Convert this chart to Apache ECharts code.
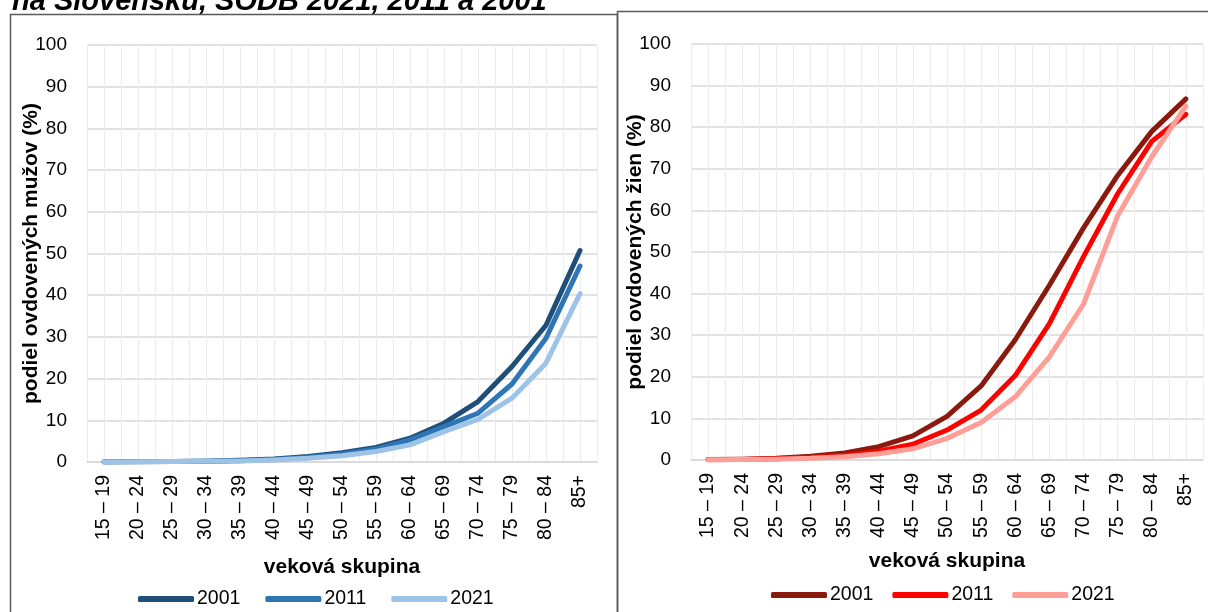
<!DOCTYPE html>
<html>
<head>
<meta charset="utf-8">
<script src="https://cdn.jsdelivr.net/npm/echarts@6/dist/echarts.min.js"></script>
<style>
  html, body { margin: 0; padding: 0; background: #fff; }
  #chart { width: 1208px; height: 612px; }
</style>
</head>
<body>
<div id="chart"></div>
<script>
// vekové skupiny
var categories = ['15 – 19', '20 – 24', '25 – 29', '30 – 34', '35 – 39', '40 – 44', '45 – 49',
    '50 – 54', '55 – 59', '60 – 64', '65 – 69', '70 – 74', '75 – 79', '80 – 84', '85+'];
var years = ['2001', '2011', '2021'];

// muži
var men2001 = [0.0, 0.05, 0.1, 0.2, 0.4, 0.7, 1.3, 2.2, 3.5, 5.7, 9.3, 14.5, 22.9, 32.8, 50.7];
var men2011 = [0.0, 0.05, 0.1, 0.2, 0.3, 0.6, 1.1, 1.9, 3.1, 5.3, 8.5, 11.7, 18.7, 29.7, 47.0];
var men2021 = [0.0, 0.05, 0.1, 0.15, 0.25, 0.5, 0.9, 1.5, 2.5, 4.1, 7.3, 10.2, 15.3, 23.7, 40.4];

// ženy
var women2001 = [0.1, 0.2, 0.4, 0.9, 1.7, 3.2, 5.8, 10.5, 17.8, 28.9, 42.0, 55.8, 68.4, 79.0, 86.8];
var women2011 = [0.05, 0.1, 0.3, 0.6, 1.1, 2.1, 3.8, 7.2, 12.0, 20.3, 32.8, 48.9, 64.0, 76.6, 83.1];
var women2021 = [0.05, 0.1, 0.2, 0.4, 0.8, 1.5, 2.7, 5.2, 9.0, 15.2, 24.8, 37.5, 58.7, 72.9, 85.1];

var yTicks = {min: 0, max: 100, interval: 10};

var menColors = ['#1f4e79', '#2e75b6', '#9dc3e6'];
var womenColors = ['#8b1a0e', '#ff0000', '#ff9e96'];

var FONT = '"Liberation Sans", Arial, sans-serif';

// pomocná os pre jemnú mriežku (čiara každú polovicu kategórie)
var halfCats = [];
for (var i = 0; i < categories.length * 2; i++) {
    halfCats.push('');
}

function mainXAxis(gridIndex, nameGap) {
    return {
        type: 'category',
        gridIndex: gridIndex,
        data: categories,
        boundaryGap: true,
        name: 'veková skupina',
        nameLocation: 'middle',
        nameGap: nameGap,
        nameMoveOverlap: false,
        nameTextStyle: {fontFamily: FONT, fontSize: 21, fontWeight: 'bold', color: '#000'},
        axisLine: {lineStyle: {color: '#d9d9d9', width: 1.5}},
        axisTick: {show: false},
        splitLine: {show: false},
        axisLabel: {rotate: 90, margin: 13, fontFamily: FONT, fontSize: 19.5, color: '#000', interval: 0}
    };
}

function gridXAxis(gridIndex) {
    return {
        type: 'category',
        gridIndex: gridIndex,
        data: halfCats,
        boundaryGap: true,
        axisLine: {show: false},
        axisTick: {show: false},
        axisLabel: {show: false},
        splitLine: {show: true, interval: 0, lineStyle: {color: '#ececec', width: 1}}
    };
}

function yAxis(gridIndex, name) {
    return {
        type: 'value',
        gridIndex: gridIndex,
        min: yTicks.min,
        max: yTicks.max,
        interval: yTicks.interval,
        name: name,
        nameLocation: 'middle',
        nameGap: 45,
        nameMoveOverlap: false,
        nameTextStyle: {fontFamily: FONT, fontSize: 21, fontWeight: 'bold', color: '#000'},
        axisLine: {show: false},
        axisTick: {show: false},
        axisLabel: {margin: 20, fontFamily: FONT, fontSize: 19, color: '#000'},
        splitLine: {lineStyle: {color: '#d9d9d9', width: 1.5}}
    };
}

function lineSeries(name, data, color, axisIdx) {
    return {
        name: name,
        type: 'line',
        xAxisIndex: axisIdx,
        yAxisIndex: axisIdx,
        data: data,
        showSymbol: false,
        symbol: 'none',
        lineStyle: {color: color, width: 5, cap: 'round', join: 'round'},
        itemStyle: {color: color},
        z: 5
    };
}

function legendFor(colors, suffix, left, top, gap) {
    return {
        data: years.map(function (y, i) {
            return {name: y + suffix, itemStyle: {color: colors[i]}};
        }),
        formatter: function (n) { return n.trim(); },
        left: left, top: top,
        icon: 'roundRect', itemWidth: 56, itemHeight: 6, itemGap: gap,
        textStyle: {fontFamily: FONT, fontSize: 19.5, color: '#000', padding: [0, 0, 0, -2]},
        selectedMode: false
    };
}

var chart = echarts.init(document.getElementById('chart'));

var option = {
    animation: false,
    backgroundColor: '#fff',
    textStyle: {fontFamily: FONT},
    graphic: [
        {type: 'text', left: 12, top: -13, style: {
            text: 'na Slovensku, SODB 2021, 2011 a 2001',
            font: 'italic bold 29px ' + FONT, fill: '#000'}},
        {type: 'rect', shape: {x: 10.5, y: 14.5, width: 607, height: 620},
            style: {fill: 'none', stroke: '#595959', lineWidth: 1.5}},
        {type: 'rect', shape: {x: 617.5, y: 11.5, width: 600, height: 620},
            style: {fill: '#fff', stroke: '#595959', lineWidth: 1.5}, z: -1}
    ],
    grid: [
        {left: 87, right: 611, top: 45, bottom: 150},
        {left: 691, right: 5, top: 44, bottom: 152}
    ],
    legend: [
        legendFor(menColors, '', 133, 584, 25),
        legendFor(womenColors, ' ', 766, 580, 19)
    ],
    xAxis: [mainXAxis(0, 95), gridXAxis(0), mainXAxis(1, 91), gridXAxis(1)],
    yAxis: [
        yAxis(0, 'podiel ovdovených mužov (%)'), yAxis(0, ''),
        yAxis(1, 'podiel ovdovených žien (%)'), yAxis(1, '')
    ],
    series: [
        lineSeries('2001', men2001, menColors[0], 0),
        lineSeries('2011', men2011, menColors[1], 0),
        lineSeries('2021', men2021, menColors[2], 0),
        lineSeries('2001 ', women2001, womenColors[0], 2),
        lineSeries('2011 ', women2011, womenColors[1], 2),
        lineSeries('2021 ', women2021, womenColors[2], 2)
    ]
};

// pomocné y osi bez zobrazenia
[1, 3].forEach(function (k) {
    option.yAxis[k].show = false;
    option.yAxis[k].splitLine = {show: false};
});

chart.setOption(option);
</script>
</body>
</html>
